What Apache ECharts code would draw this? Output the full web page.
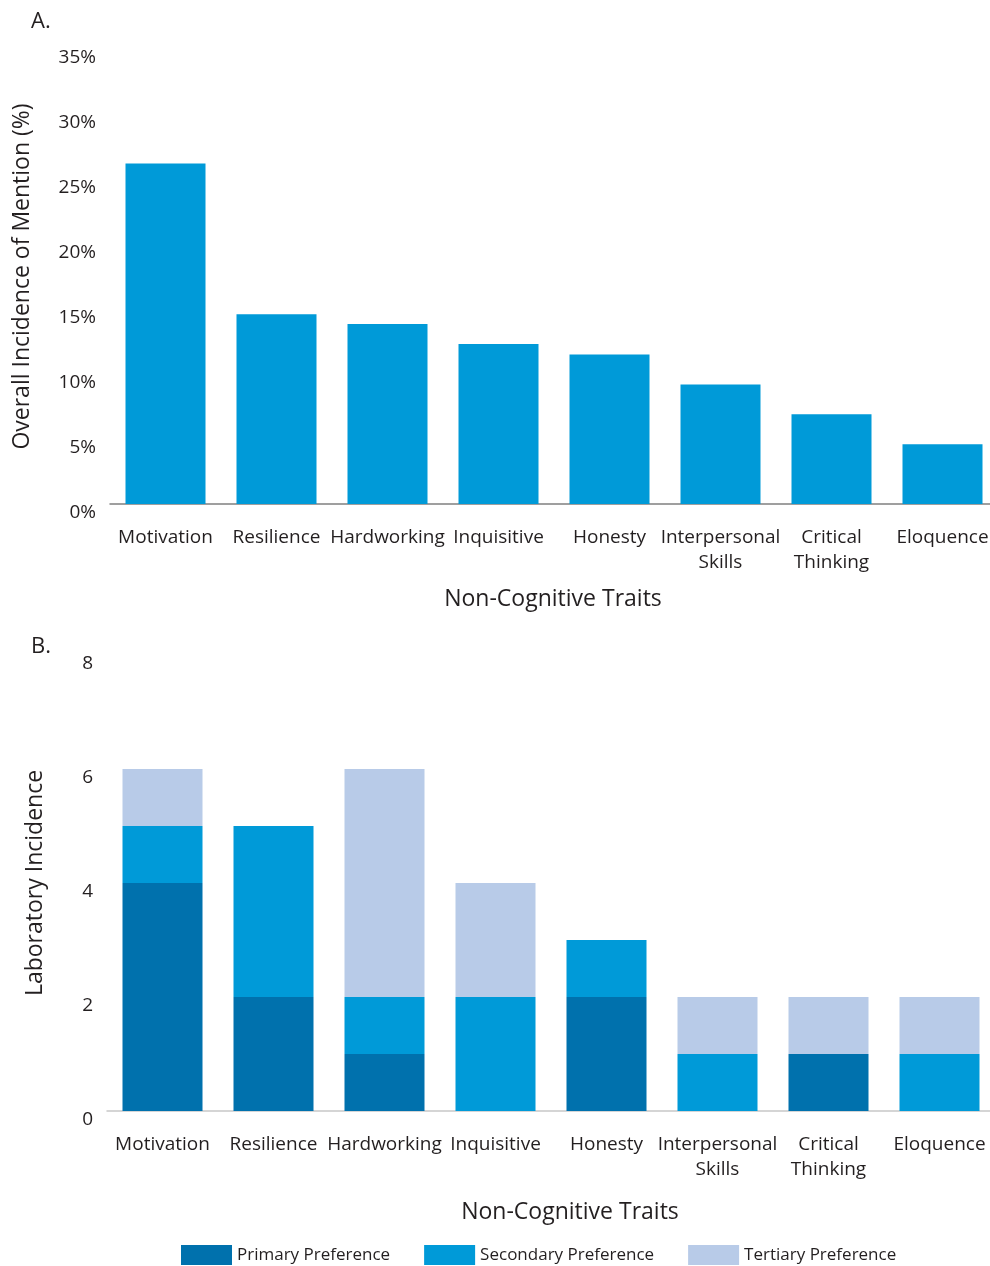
<!DOCTYPE html>
<html>
<head>
<meta charset="utf-8">
<script src="https://cdn.jsdelivr.net/npm/echarts@6/dist/echarts.min.js"></script>
<style>
html, body { margin: 0; padding: 0; background: #fff; overflow: hidden; }
#chart { width: 1000px; height: 1266px; }
</style>
</head>
<body>
<div id="chart"></div>
<script>
// Trait categories shared by both panels
const traits = ['Motivation', 'Resilience', 'Hardworking', 'Inquisitive', 'Honesty',
  'Interpersonal\nSkills', 'Critical\nThinking', 'Eloquence'];

// Panel A: overall incidence of mention (%)
const overallIncidence = [26.2, 14.6, 13.85, 12.3, 11.5, 9.2, 6.9, 4.6];

// Panel B: laboratory incidence by preference rank
const primaryPref = [4, 2, 1, 0, 2, 0, 1, 0];
const secondaryPref = [1, 3, 1, 2, 1, 1, 0, 1];
const tertiaryPref = [1, 0, 4, 2, 0, 1, 1, 1];

const FONT = '"Open Sans", "Noto Sans", sans-serif';
const TEXT = '#231f20';
const C_PRIMARY = '#0071ad';
const C_SECONDARY = '#009ad8';
const C_TERTIARY = '#b8cbe8';

const chart = echarts.init(document.getElementById('chart'), null, { renderer: 'canvas' });

const xAxisCommon = (gridIndex, lineColor) => ({
  type: 'category',
  gridIndex,
  data: traits,
  axisLine: { show: true, lineStyle: { color: lineColor, width: 1.5 } },
  axisTick: { show: false },
  axisLabel: {
    color: TEXT, fontFamily: FONT, fontSize: 19, lineHeight: 25,
    margin: 21, interval: 0
  }
});

const yLabel = {
  color: TEXT, fontFamily: FONT, fontSize: 19, lineHeight: 18,
  margin: 14, verticalAlign: 'top'
};

const titleStyle = { fontSize: 23, fontWeight: 'normal', color: TEXT, fontFamily: FONT };

chart.setOption({
  animation: false,
  textStyle: { fontFamily: FONT },
  title: [
    { text: 'A.', left: 26, top: 6, textStyle: { fontSize: 22, fontWeight: 'normal', color: TEXT, fontFamily: FONT } },
    { text: 'B.', left: 26, top: 631, textStyle: { fontSize: 22, fontWeight: 'normal', color: TEXT, fontFamily: FONT } },
    { text: 'Non-Cognitive Traits', left: 548, top: 583, textAlign: 'center', textStyle: titleStyle },
    { text: 'Non-Cognitive Traits', left: 565, top: 1196, textAlign: 'center', textStyle: titleStyle }
  ],
  legend: {
    left: 176, top: 1240,
    itemWidth: 51, itemHeight: 20, itemGap: 34,
    textStyle: { color: TEXT, fontFamily: FONT, fontSize: 17 },
    data: ['Primary Preference', 'Secondary Preference', 'Tertiary Preference'],
    icon: 'rect'
  },
  grid: [
    { left: 110, top: 49, width: 888, height: 455 },
    { left: 107, top: 655, width: 888, height: 456 }
  ],
  xAxis: [
    xAxisCommon(0, '#808080'),
    xAxisCommon(1, '#c8c8c8')
  ],
  yAxis: [
    {
      type: 'value', gridIndex: 0, min: 0, max: 35, interval: 5,
      axisLine: { show: false }, axisTick: { show: false }, splitLine: { show: false },
      axisLabel: Object.assign({ formatter: '{value}%' }, yLabel),
      name: 'Overall Incidence of Mention (%)', nameLocation: 'middle', nameRotate: 90, nameGap: 76,
      nameTextStyle: titleStyle
    },
    {
      type: 'value', gridIndex: 1, min: 0, max: 8, interval: 2,
      axisLine: { show: false }, axisTick: { show: false }, splitLine: { show: false },
      axisLabel: yLabel,
      name: 'Laboratory Incidence', nameLocation: 'middle', nameRotate: 90, nameGap: 60,
      nameTextStyle: titleStyle
    }
  ],
  series: [
    {
      type: 'bar', xAxisIndex: 0, yAxisIndex: 0, data: overallIncidence,
      barWidth: 80, itemStyle: { color: C_SECONDARY }
    },
    {
      name: 'Primary Preference', type: 'bar', stack: 'lab', xAxisIndex: 1, yAxisIndex: 1,
      data: primaryPref, barWidth: 80, itemStyle: { color: C_PRIMARY }
    },
    {
      name: 'Secondary Preference', type: 'bar', stack: 'lab', xAxisIndex: 1, yAxisIndex: 1,
      data: secondaryPref, barWidth: 80, itemStyle: { color: C_SECONDARY }
    },
    {
      name: 'Tertiary Preference', type: 'bar', stack: 'lab', xAxisIndex: 1, yAxisIndex: 1,
      data: tertiaryPref, barWidth: 80, itemStyle: { color: C_TERTIARY }
    }
  ]
});
</script>
</body>
</html>
